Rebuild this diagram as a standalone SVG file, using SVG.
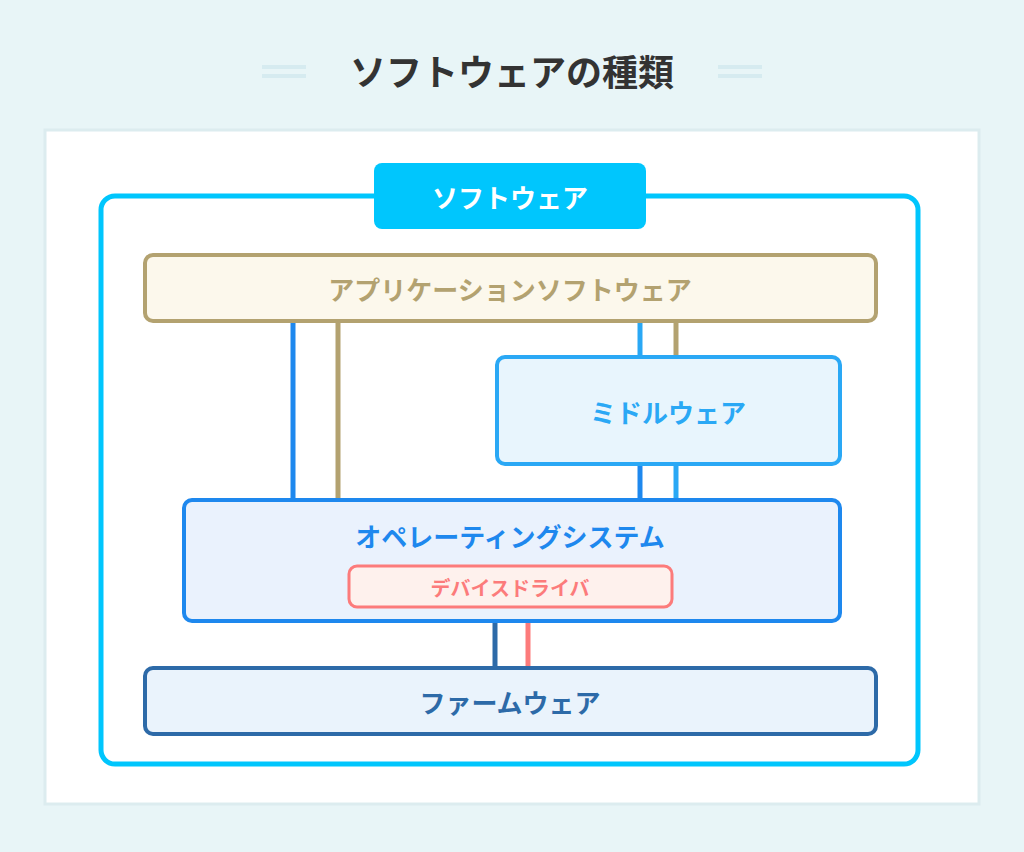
<svg xmlns="http://www.w3.org/2000/svg" width="1024" height="852" viewBox="0 0 1024 852">
<style>
text{font-family:"Noto Sans CJK JP","Noto Sans",sans-serif;font-weight:bold;text-anchor:middle;dominant-baseline:central}
.c{stroke-width:5;fill:none}
</style>
<rect width="1024" height="852" fill="#e8f5f7"/>
<g id="title">
<path d="M262 67h44M262 76h44M718 67h44M718 76h44" stroke="#d6ebf0" stroke-width="4"/>
<text x="512" y="70" font-size="36" fill="#333">ソフトウェアの種類</text>
</g>
<rect x="45" y="130" width="934" height="674" fill="#fff" stroke="#dcecef" stroke-width="3"/>
<g id="software">
<rect x="101" y="196" width="817" height="568" rx="14" fill="none" stroke="#00c6fd" stroke-width="5"/>
<rect x="374" y="163" width="272" height="66" rx="8" fill="#00c6fd"/>
<text x="510" y="196" font-size="26" fill="#fff">ソフトウェア</text>
</g>
<g id="connectors">
<line class="c" x1="293" y1="322" x2="293" y2="500" stroke="#1e88ee"/>
<line class="c" x1="338" y1="322" x2="338" y2="500" stroke="#b3a270"/>
<line class="c" x1="640" y1="322" x2="640" y2="357" stroke="#2aa8f5"/>
<line class="c" x1="676" y1="322" x2="676" y2="357" stroke="#b3a270"/>
<line class="c" x1="640" y1="464" x2="640" y2="500" stroke="#1e88ee"/>
<line class="c" x1="676" y1="464" x2="676" y2="500" stroke="#2aa8f5"/>
<line class="c" x1="495" y1="607" x2="495" y2="668" stroke="#2d6aa8"/>
<line class="c" x1="528" y1="607" x2="528" y2="668" stroke="#fc7b7b"/>
</g>
<g id="app">
<rect x="145" y="255" width="731" height="66" rx="8" fill="#fcf8ec" stroke="#b3a270" stroke-width="4"/>
<text x="510" y="288" font-size="26" fill="#b3a270">アプリケーションソフトウェア</text>
</g>
<g id="middleware">
<rect x="497" y="357" width="343" height="107" rx="8" fill="#e8f5fd" stroke="#2aa8f5" stroke-width="4"/>
<text x="668" y="411" font-size="26" fill="#2aa8f5">ミドルウェア</text>
</g>
<g id="os">
<rect x="184" y="500" width="656" height="121" rx="8" fill="#eaf2fd" stroke="#1e88ee" stroke-width="4"/>
<text x="510" y="535" font-size="26" fill="#1e88ee">オペレーティングシステム</text>
</g>
<g id="driver">
<rect x="349" y="566" width="323" height="41" rx="8" fill="#fef1ed" stroke="#fc7b7b" stroke-width="3"/>
<text x="510" y="587" font-size="20" fill="#fc7b7b">デバイスドライバ</text>
</g>
<g id="firmware">
<rect x="145" y="668" width="731" height="66" rx="8" fill="#eaf3fc" stroke="#2d6aa8" stroke-width="4"/>
<text x="510" y="701" font-size="26" fill="#2d6aa8">ファームウェア</text>
</g>
</svg>
